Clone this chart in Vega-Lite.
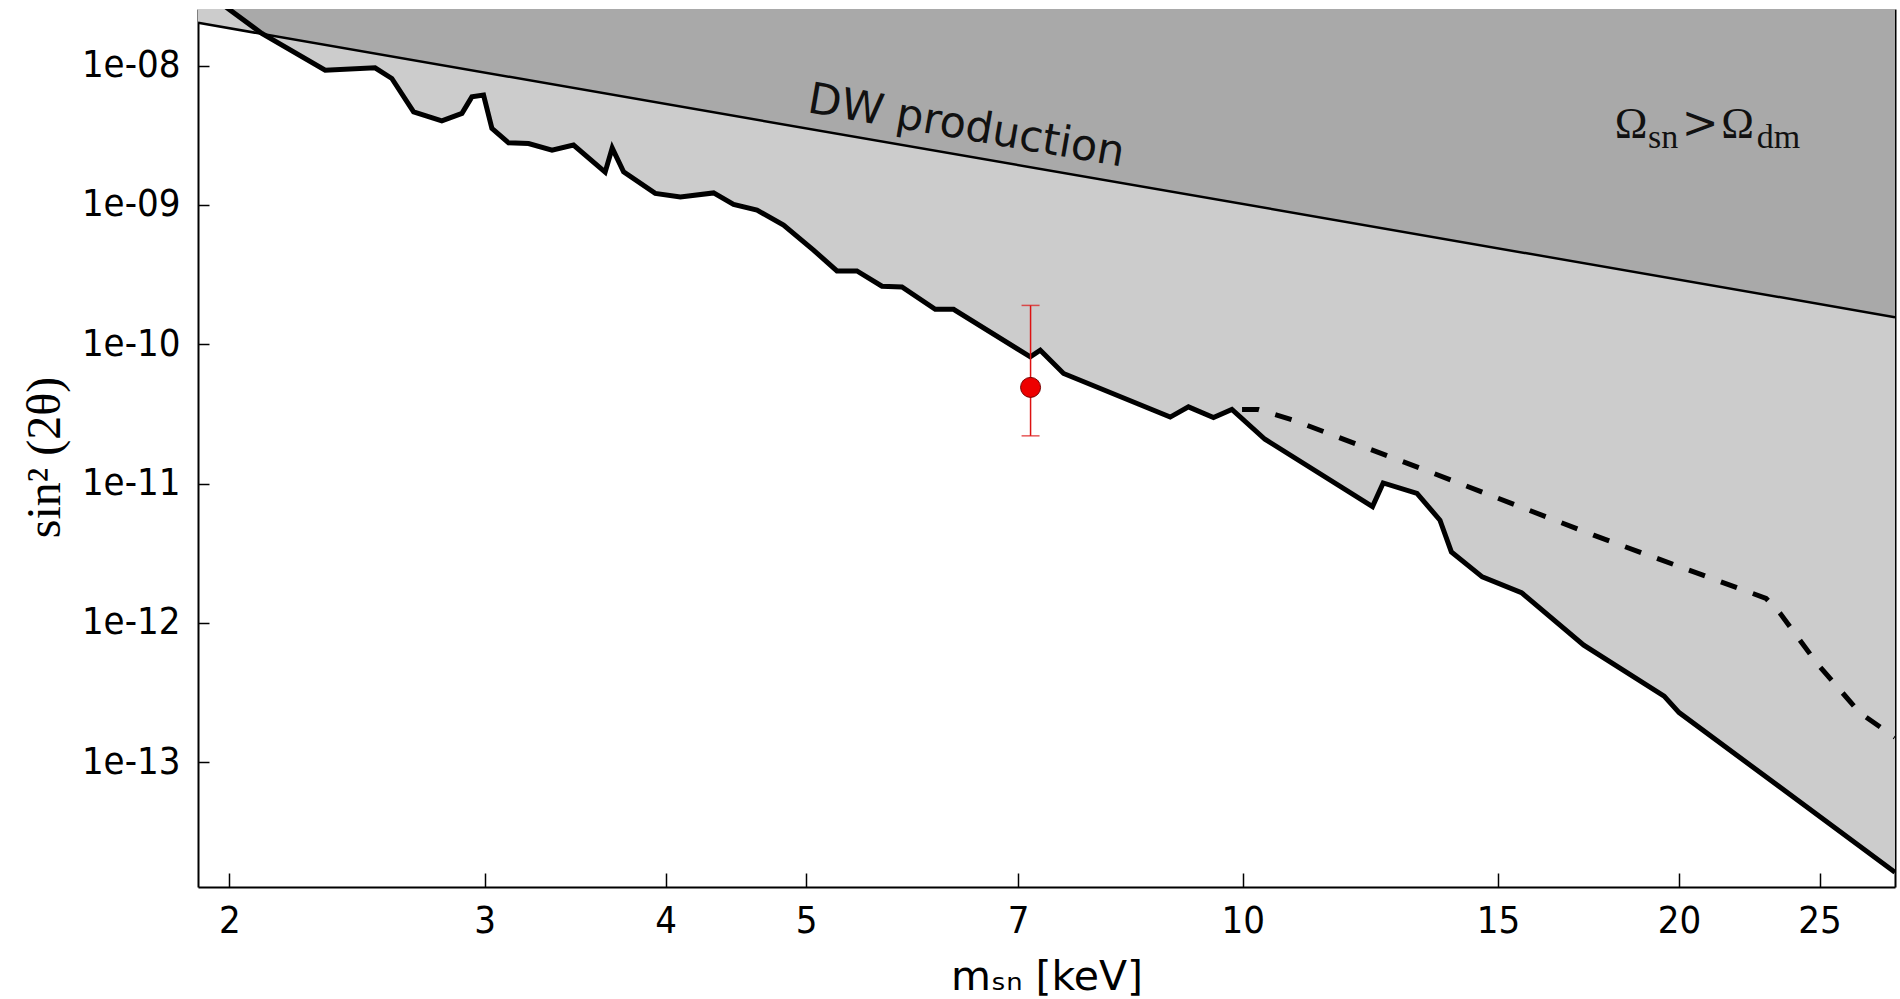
{
  "$schema": "https://vega.github.io/schema/vega-lite/v6.json",
  "width": 1697,
  "height": 878,
  "autosize": {"type": "none"},
  "padding": {"left": 198, "top": 9, "right": 5, "bottom": 112},
  "background": "white",
  "config": {
    "view": {"stroke": null},
    "axis": {
      "domainColor": "black",
      "domainWidth": 2,
      "tickColor": "black",
      "tickWidth": 1.5,
      "labelColor": "black",
      "titleColor": "black",
      "grid": false,
      "zindex": 1,
      "labelFont": "DejaVu Sans Condensed, DejaVu Sans",
      "labelFontSize": 38,
      "labelOverlap": false,
      "labelBound": false,
      "labelFlush": false
    }
  },
  "datasets": {
    "limit": [
      {"m": 1.926, "s": 3.37e-8},
      {"m": 2.003, "s": 2.503e-8},
      {"m": 2.106, "s": 1.702e-8},
      {"m": 2.329, "s": 9.28e-9},
      {"m": 2.521, "s": 9.64e-9},
      {"m": 2.589, "s": 8.09e-9},
      {"m": 2.68, "s": 4.66e-9},
      {"m": 2.803, "s": 4.02e-9},
      {"m": 2.894, "s": 4.54e-9},
      {"m": 2.94, "s": 5.97e-9},
      {"m": 2.995, "s": 6.14e-9},
      {"m": 3.035, "s": 3.54e-9},
      {"m": 3.116, "s": 2.79e-9},
      {"m": 3.217, "s": 2.76e-9},
      {"m": 3.339, "s": 2.47e-9},
      {"m": 3.455, "s": 2.69e-9},
      {"m": 3.633, "s": 1.72e-9},
      {"m": 3.674, "s": 2.56e-9},
      {"m": 3.741, "s": 1.73e-9},
      {"m": 3.934, "s": 1.21e-9},
      {"m": 4.094, "s": 1.14e-9},
      {"m": 4.316, "s": 1.22e-9},
      {"m": 4.455, "s": 1.01e-9},
      {"m": 4.624, "s": 9.18e-10},
      {"m": 4.823, "s": 7.16e-10},
      {"m": 5.058, "s": 4.74e-10},
      {"m": 5.25, "s": 3.36e-10},
      {"m": 5.419, "s": 3.36e-10},
      {"m": 5.639, "s": 2.61e-10},
      {"m": 5.821, "s": 2.58e-10},
      {"m": 6.137, "s": 1.78e-10},
      {"m": 6.318, "s": 1.78e-10},
      {"m": 7.137, "s": 8.12e-11},
      {"m": 7.251, "s": 9.07e-11},
      {"m": 7.524, "s": 6.17e-11},
      {"m": 8.913, "s": 3.0e-11},
      {"m": 9.175, "s": 3.55e-11},
      {"m": 9.547, "s": 2.98e-11},
      {"m": 9.83, "s": 3.4e-11},
      {"m": 10.36, "s": 2.08e-11},
      {"m": 12.29, "s": 6.83e-12},
      {"m": 12.5, "s": 1.01e-11},
      {"m": 13.19, "s": 8.49e-12},
      {"m": 13.68, "s": 5.46e-12},
      {"m": 13.93, "s": 3.23e-12},
      {"m": 14.63, "s": 2.14e-12},
      {"m": 15.57, "s": 1.65e-12},
      {"m": 17.19, "s": 6.92e-13},
      {"m": 19.53, "s": 2.98e-13},
      {"m": 20.0, "s": 2.27e-13},
      {"m": 28.18, "s": 1.62e-14}
    ],
    "dw": [
      {"m": 1.903, "s": 2.029e-8},
      {"m": 28.18, "s": 1.565e-10}
    ],
    "darkEdge": [
      {"m": 1.926, "s": 3.37e-8},
      {"m": 2.003, "s": 2.503e-8},
      {"m": 2.106, "s": 1.702e-8},
      {"m": 28.18, "s": 1.565e-10}
    ],
    "dashed": [
      {"m": 9.99, "s": 3.4e-11},
      {"m": 10.25, "s": 3.4e-11},
      {"m": 10.84, "s": 2.85e-11},
      {"m": 13.47, "s": 1.21e-11},
      {"m": 17.46, "s": 4.26e-12},
      {"m": 22.96, "s": 1.5e-12},
      {"m": 23.48, "s": 1.17e-12},
      {"m": 24.9, "s": 5.11e-13},
      {"m": 26.66, "s": 2.25e-13},
      {"m": 28.18, "s": 1.51e-13}
    ],
    "obs": [
      {"m": 7.14, "s": 4.9e-11, "lo": 2.2e-11, "hi": 1.9e-10}
    ],
    "dwLabel": [
      {"m": 6.396, "s": 2.277e-9, "t": "DW production"}
    ],
    "omegaMain": [
      {"m": 18.53, "s": 3.02e-9, "t": "Ω"},
      {"m": 21.95, "s": 3.02e-9, "t": "Ω"}
    ],
    "omegaRel": [
      {"m": 20.68, "s": 3.02e-9, "t": ">"}
    ],
    "omegaSub": [
      {"m": 19.5, "s": 3.02e-9, "t": "sn"},
      {"m": 23.42, "s": 3.02e-9, "t": "dm"}
    ]
  },
  "encoding": {
    "x": {
      "field": "m",
      "type": "quantitative",
      "scale": {"type": "log", "domain": [1.903, 28.18], "nice": false},
      "axis": null
    },
    "y": {
      "field": "s",
      "type": "quantitative",
      "scale": {"type": "log", "domain": [1.27e-14, 2.55e-8], "nice": false},
      "axis": null
    }
  },
  "layer": [
    {
      "data": {"name": "limit"},
      "mark": {"type": "area", "color": "#cccccc", "clip": true},
      "encoding": {
        "x": {
          "field": "m",
          "type": "quantitative",
          "scale": {"type": "log", "domain": [1.903, 28.18], "nice": false},
          "axis": {
            "orient": "bottom",
            "values": [2, 3, 4, 5, 7, 10, 15, 20, 25],
            "format": "d",
            "domain": false,
            "tickSize": 14,
            "offset": -14,
            "labelPadding": 15,
            "title": "mₛₙ [keV]",
            "titleFont": "DejaVu Sans",
            "titleFontSize": 41,
            "titleFontWeight": "normal",
            "titlePadding": 17
          }
        },
        "y": {
          "field": "s",
          "type": "quantitative",
          "scale": {"type": "log", "domain": [1.27e-14, 2.55e-8], "nice": false},
          "axis": {
            "orient": "left",
            "values": [1e-8, 1e-9, 1e-10, 1e-11, 1e-12, 1e-13],
            "labelExpr": "'1e-' + pad(toString(round(-log(datum.value)/LN10)), 2, '0', 'left')",
            "domain": false,
            "tickSize": 11,
            "offset": -11,
            "labelPadding": 18,
            "title": "sin² (2θ)",
            "titleFont": "Liberation Serif",
            "titleFontSize": 48,
            "titleFontWeight": "normal",
            "titlePadding": 12,
            "titleY": 448
          }
        },
        "y2": {"datum": 1e-6}
      }
    },
    {
      "data": {"name": "dw"},
      "mark": {"type": "area", "color": "#cccccc", "clip": true},
      "encoding": {
        "x": {
          "field": "m",
          "type": "quantitative",
          "scale": {"type": "log", "domain": [1.903, 28.18], "nice": false},
          "axis": {"orient": "bottom", "domain": true, "ticks": false, "labels": false, "title": null}
        },
        "y": {
          "field": "s",
          "type": "quantitative",
          "scale": {"type": "log", "domain": [1.27e-14, 2.55e-8], "nice": false},
          "axis": {"orient": "left", "domain": true, "ticks": false, "labels": false, "title": null}
        },
        "y2": {"datum": 1e-6}
      }
    },
    {
      "data": {"name": "darkEdge"},
      "mark": {"type": "area", "color": "#a9a9a9", "clip": true},
      "encoding": {
        "y": {
          "field": "s",
          "type": "quantitative",
          "scale": {"type": "log", "domain": [1.27e-14, 2.55e-8], "nice": false},
          "axis": {"orient": "right", "domain": true, "ticks": false, "labels": false, "title": null}
        },
        "y2": {"datum": 1e-6}
      }
    },
    {
      "data": {"name": "dw"},
      "mark": {"type": "line", "color": "black", "strokeWidth": 2.5, "clip": true},
      "encoding": {}
    },
    {
      "data": {"name": "limit"},
      "mark": {"type": "line", "color": "black", "strokeWidth": 5, "clip": true},
      "encoding": {}
    },
    {
      "data": {"name": "dashed"},
      "mark": {"type": "line", "color": "black", "strokeWidth": 5, "strokeDash": [17, 17], "clip": true},
      "encoding": {
        "y": {
          "field": "s",
          "type": "quantitative",
          "scale": {"type": "log", "domain": [1.27e-14, 2.55e-8], "nice": false},
          "axis": {
            "orient": "right",
            "values": [1e-10, 1e-11, 1e-12, 1e-13],
            "domain": false,
            "labels": false,
            "tickSize": 11,
            "offset": -11,
            "title": null
          }
        }
      }
    },
    {
      "data": {"name": "obs"},
      "mark": {"type": "errorbar", "ticks": {"size": 18, "thickness": 1.5, "color": "#dd1111"}, "color": "#dd1111", "thickness": 1.5},
      "encoding": {
        "y": {
          "field": "lo",
          "type": "quantitative",
          "scale": {"type": "log", "domain": [1.27e-14, 2.55e-8], "nice": false},
          "axis": null
        },
        "y2": {"field": "hi"}
      }
    },
    {
      "data": {"name": "obs"},
      "mark": {"type": "point", "shape": "circle", "filled": true, "fill": "#ee0000", "stroke": "#7a0000", "strokeWidth": 1, "opacity": 1, "size": 400}
    },
    {
      "data": {"name": "dwLabel"},
      "mark": {"type": "text", "angle": 9.84, "dy": -29, "align": "center", "baseline": "middle", "font": "DejaVu Sans", "fontSize": 43, "color": "#111111"},
      "encoding": {"text": {"field": "t"}}
    },
    {
      "data": {"name": "omegaMain"},
      "mark": {"type": "text", "align": "center", "baseline": "alphabetic", "font": "Liberation Serif", "fontSize": 44, "color": "#111111"},
      "encoding": {"text": {"field": "t"}}
    },
    {
      "data": {"name": "omegaRel"},
      "mark": {"type": "text", "align": "center", "baseline": "alphabetic", "font": "DejaVu Serif", "fontSize": 44, "color": "#111111"},
      "encoding": {"text": {"field": "t"}}
    },
    {
      "data": {"name": "omegaSub"},
      "mark": {"type": "text", "align": "center", "baseline": "alphabetic", "dy": 10, "font": "Liberation Serif", "fontSize": 34, "color": "#111111"},
      "encoding": {"text": {"field": "t"}}
    }
  ],
  "resolve": {"axis": {"x": "independent", "y": "independent"}}
}
